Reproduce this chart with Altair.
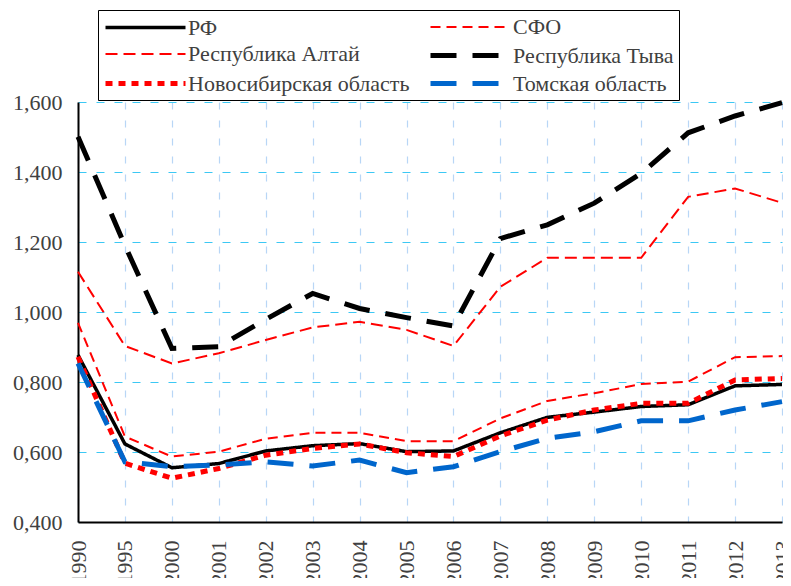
import altair as alt
import pandas as pd

years = ["1990", "1995", "2000", "2001", "2002", "2003", "2004", "2005",
         "2006", "2007", "2008", "2009", "2010", "2011", "2012", "2013"]

series_names = ["РФ", "СФО", "Республика Алтай", "Республика Тыва",
                "Новосибирская область", "Томская область"]

rf = [0.877, 0.623, 0.555, 0.567, 0.603, 0.618, 0.624, 0.601,
      0.603, 0.655, 0.699, 0.714, 0.730, 0.735, 0.789, 0.793]
sfo = [0.969, 0.644, 0.587, 0.601, 0.638, 0.655, 0.655, 0.631,
       0.631, 0.696, 0.746, 0.768, 0.794, 0.801, 0.871, 0.874]
altai = [1.115, 0.903, 0.853, 0.882, 0.920, 0.956, 0.972, 0.949,
         0.903, 1.072, 1.155, 1.155, 1.155, 1.329, 1.353, 1.312]
tyva = [1.501, 1.190, 0.896, 0.901, 0.979, 1.053, 1.010, 0.984,
        0.960, 1.210, 1.249, 1.311, 1.396, 1.512, 1.560, 1.598]
novosib = [0.872, 0.568, 0.525, 0.553, 0.591, 0.610, 0.623, 0.598,
           0.587, 0.646, 0.691, 0.720, 0.739, 0.739, 0.806, 0.810]
tomsk = [0.853, 0.572, 0.558, 0.563, 0.572, 0.560, 0.577, 0.541,
         0.558, 0.601, 0.639, 0.658, 0.689, 0.689, 0.720, 0.744]

values = [rf, sfo, altai, tyva, novosib, tomsk]

colors = ["#000000", "#ff0000", "#ff0000", "#000000", "#ff0000", "#0066cc"]
dashes = [[1, 0], [10, 6], [12, 6], [26, 16], [7, 6], [26, 16]]
widths = [3.5, 2, 2, 5, 5, 5]

FONT = "Liberation Serif"

rows = []
for name, vals in zip(series_names, values):
    for y, v in zip(years, vals):
        rows.append({"year": y, "value": v, "series": name})
df = pd.DataFrame(rows)

legend = alt.Legend(
    orient="none",
    direction="horizontal",
    legendX=20,
    legendY=-92,
    columns=2,
    gridAlign="all",
    symbolType="M-1,0H7",
    symbolSize=400,
    labelOffset=60,
    labelLimit=500,
    columnPadding=10,
    rowPadding=4,
    padding=5,
    fillColor="white",
    strokeColor="black",
)

chart = (
    alt.Chart(df)
    .mark_line(strokeCap="butt", strokeJoin="miter")
    .encode(
        x=alt.X(
            "year:O",
            scale=alt.Scale(type="point", padding=0),
            sort=years,
            axis=alt.Axis(
                title=None,
                labelAngle=-90,
                labelPadding=18,
                ticks=False,
                domainColor="black",
                domainWidth=2,
                grid=True,
                gridColor="#b8d6f6",
                gridDash=[7, 11],
                gridWidth=1.2,
            ),
        ),
        y=alt.Y(
            "value:Q",
            scale=alt.Scale(domain=[0.4, 1.6], nice=False, zero=False),
            axis=alt.Axis(
                title=None,
                values=[0.4, 0.6, 0.8, 1.0, 1.2, 1.4, 1.6],
                labelExpr="replace(format(datum.value, '.3f'), '.', ',')",
                labelPadding=16,
                ticks=False,
                domainColor="black",
                domainWidth=2,
                grid=True,
                gridColor="#3cc8f4",
                gridDash=[8, 10],
                gridWidth=1.2,
            ),
        ),
        color=alt.Color(
            "series:N",
            title=None,
            sort=series_names,
            scale=alt.Scale(domain=series_names, range=colors),
            legend=legend,
        ),
        strokeDash=alt.StrokeDash(
            "series:N",
            title=None,
            sort=series_names,
            scale=alt.Scale(type="ordinal", domain=series_names, range=dashes),
            legend=legend,
        ),
        strokeWidth=alt.StrokeWidth(
            "series:N",
            title=None,
            sort=series_names,
            scale=alt.Scale(type="ordinal", domain=series_names, range=widths),
            legend=legend,
        ),
    )
    .properties(
        width=704,
        height=420,
        autosize=alt.AutoSizeParams(type="none"),
        padding={"left": 70, "top": 94, "right": 1, "bottom": 56},
    )
    .configure(background="white", font=FONT)
    .configure_view(stroke=None)
    .configure_axis(labelFont=FONT, labelFontSize=22, labelColor="#404040")
    .configure_legend(labelFont=FONT, labelFontSize=22, labelColor="#404040")
)

chart.save("out.html", embed_options={"renderer": "svg", "actions": False})
